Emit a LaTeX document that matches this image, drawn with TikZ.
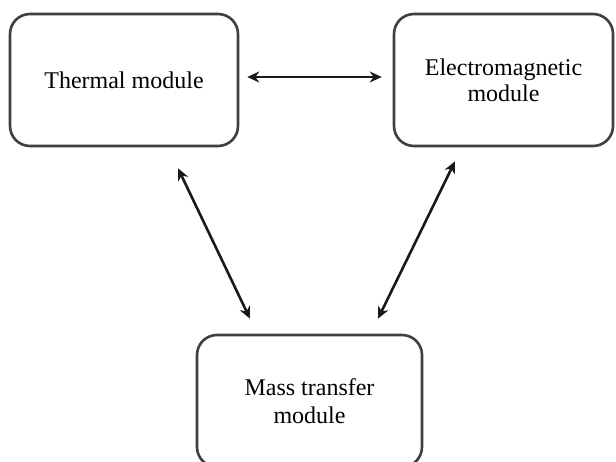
\documentclass[tikz,border=0pt]{standalone}
\usepackage{fontspec}
\setmainfont{Liberation Serif}
\usetikzlibrary{arrows.meta}
\begin{document}
\begin{tikzpicture}[x=1pt,y=-1pt,
  modbox/.style={draw=black!75,line width=2.6pt,rounded corners=20pt,align=center,
    font=\fontsize{24}{28}\selectfont,inner sep=0pt},
  arr/.style={draw=black!90,line width=2.6pt,{Stealth[length=12pt,width=11pt]}-{Stealth[length=12pt,width=11pt]}}]
\useasboundingbox[fill=white] (0,0) rectangle (616,461);
\clip (0,0) rectangle (616,461);
\node[modbox,minimum width=228pt,minimum height=132pt] (t) at (124,80) {\raisebox{-3pt}{Thermal module}};
\node[modbox,minimum width=219pt,minimum height=132pt] (e) at (503.5,80) {\raisebox{-6pt}{\shortstack[c]{Electromagnetic\\[1pt]module}}};
\node[modbox,minimum width=225pt,minimum height=132pt] (m) at (309.5,401) {Mass transfer\\module};
\draw[arr] ([shift={(8pt,3pt)}]t.east) -- ([shift={(-11pt,3pt)}]e.west);
\draw[arr] ([shift={(54pt,-21pt)}]t.south) -- ([shift={(-59.5pt,15pt)}]m.north);
\draw[arr] ([shift={(-48.5pt,-14pt)}]e.south) -- ([shift={(68.5pt,15pt)}]m.north);
\end{tikzpicture}
\end{document}
